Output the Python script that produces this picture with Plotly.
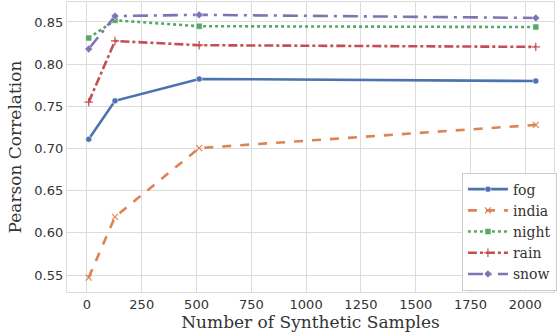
import plotly.graph_objects as go

samples = [8, 128, 512, 2048]
fog = [0.711, 0.7565, 0.7825, 0.780]
india = [0.547, 0.619, 0.7005, 0.728]
night = [0.831, 0.852, 0.845, 0.844]
rain = [0.755, 0.8275, 0.8225, 0.8205]
snow = [0.818, 0.857, 0.8585, 0.8548]

series = [
    ("fog", fog, "#4c72b0", "solid", "circle"),
    ("india", india, "#dd8452", "dash", "x-thin"),
    ("night", night, "#55a868", "dot", "square"),
    ("rain", rain, "#c44e52", "dashdot", "cross-thin"),
    ("snow", snow, "#8172b3", "longdashdot", "diamond"),
]

fig = go.Figure()
for name, vals, color, dash, sym in series:
    fig.add_trace(go.Scatter(
        x=samples, y=vals, name=name, mode="lines+markers",
        line=dict(color=color, width=2.6, dash=dash),
        marker=dict(symbol=sym, size=6, color=color,
                    line=dict(color=color if "thin" in sym else "white", width=1.2 if "thin" in sym else 0.5)),
    ))

grid = "#dcdcdc"
fig.update_layout(
    width=559, height=334,
    margin=dict(l=67, r=2, t=2, b=42),
    paper_bgcolor="white", plot_bgcolor="white",
    font=dict(family="DejaVu Sans", size=13, color="#333333"),
    showlegend=True,
    legend=dict(
        x=1.006, y=0.005, xanchor="right", yanchor="bottom",
        bgcolor="white", bordercolor="#cccccc", borderwidth=1,
        font=dict(family="DejaVu Serif", size=14, color="#333333"),
        tracegroupgap=0, itemwidth=40,
    ),
    xaxis=dict(
        range=[-91, 2131], tickvals=[0, 250, 500, 750, 1000, 1250, 1500, 1750, 2000],
        showgrid=True, gridcolor=grid, gridwidth=1.2, zeroline=False,
        showline=True, linecolor=grid, linewidth=1.2, mirror=True,
        ticks="", tickfont=dict(family="DejaVu Sans", size=13, color="#333333"),
        title=dict(text="Number of Synthetic Samples", standoff=2,
                   font=dict(family="DejaVu Serif", size=17, color="#333333")),
    ),
    yaxis=dict(
        range=[0.5299, 0.8737], tickvals=[0.55, 0.60, 0.65, 0.70, 0.75, 0.80, 0.85],
        tickformat=".2f",
        showgrid=True, gridcolor=grid, gridwidth=1.2, zeroline=False,
        showline=True, linecolor=grid, linewidth=1.2, mirror=True,
        ticks="", tickfont=dict(family="DejaVu Sans", size=13, color="#333333"),
        title=dict(text="Pearson Correlation", standoff=8,
                   font=dict(family="DejaVu Serif", size=17, color="#333333")),
    ),
)

fig.write_html("out.html", config={"displayModeBar": False},
               post_script="document.body.style.margin='0';")
